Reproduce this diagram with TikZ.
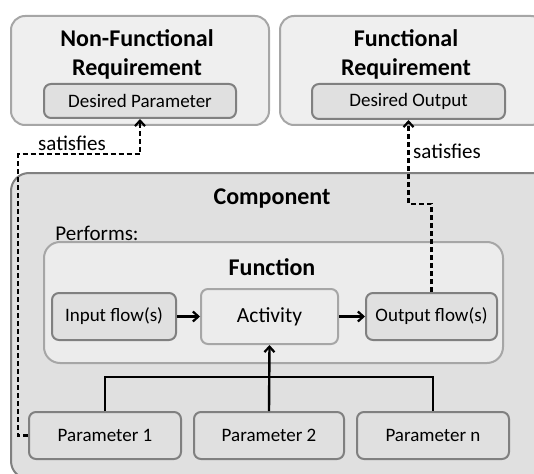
\documentclass[tikz,border=0pt]{standalone}
\usepackage{fontspec}
\setmainfont{Carlito}
\usetikzlibrary{arrows.meta}
\definecolor{paleFill}{HTML}{EFEFEF}
\definecolor{paleLine}{HTML}{A6A6A6}
\definecolor{midFill}{HTML}{E0E0E0}
\definecolor{darkLine}{HTML}{808080}
\definecolor{funcFill}{HTML}{ECECEC}
\tikzset{
  outerbox/.style={draw=paleLine, fill=paleFill, line width=2pt, rounded corners=14pt, anchor=north west, inner sep=0pt},
  compbox/.style={draw=darkLine, fill=midFill, line width=2pt, rounded corners=18pt, anchor=north west, inner sep=0pt},
  funcbox/.style={draw=paleLine, fill=funcFill, line width=2pt, rounded corners=16pt, anchor=north west, inner sep=0pt},
  itembox/.style={draw=darkLine, fill=midFill, line width=2pt, rounded corners=7pt, anchor=north west, inner sep=0pt,
    font=\fontsize{19}{21}\selectfont},
  actbox/.style={draw=paleLine, fill=funcFill, line width=2pt, rounded corners=7pt, anchor=north west, inner sep=0pt,
    font=\fontsize{21.5}{23}\selectfont},
  titletext/.style={font=\bfseries\fontsize{24}{29}\selectfont, inner sep=0pt},
  plaintext/.style={font=\fontsize{21}{23}\selectfont, inner sep=0pt},
  flow/.style={line width=2.4pt, -{Straight Barb[length=5.5pt, width=10pt, line width=2.2pt]}},
  link/.style={line width=2.4pt},
  satisfy/.style={line width=2.4pt, dash pattern=on 5pt off 3pt, -{Straight Barb[length=5.5pt, width=10pt, line width=2.2pt]}}
}
\begin{document}
\begin{tikzpicture}[x=1pt, y=-1pt]
\useasboundingbox (0,0) rectangle (534,473);
\begin{scope}
\clip (0,0) rectangle (534,473);

% requirement containers
\node[outerbox, minimum width=258pt, minimum height=109pt] (nfr) at (10,15) {};
\node[outerbox, minimum width=265pt, minimum height=109pt] (fr) at (279,15) {};
\node[titletext, align=center] (nfrtitle) at (137,54) {Non-Functional\\Requirement};
\node[titletext, align=center] (frtitle) at (406,54) {Functional\\Requirement};
\node[itembox, minimum width=192pt, minimum height=34pt] (dp) at (43,83) {Desired Parameter};
\node[itembox, minimum width=193pt, minimum height=35pt] (do) at (311,83) {Desired Output};

% component container
\node[compbox, minimum width=540pt, minimum height=306pt] (comp) at (10,172) {};
\node[titletext] (comptitle) at (272,199) {Component};
\node[plaintext] (performs) at (97,233) {Performs:};

% function container
\node[funcbox, minimum width=459pt, minimum height=121pt] (func) at (43,241) {};
\node[titletext] (functitle) at (272,267) {Function};
\node[itembox, minimum width=124pt, minimum height=47pt] (inp) at (51,292) {Input flow(s)};
\node[actbox, minimum width=137pt, minimum height=55pt] (act) at (200,288) {Activity};
\node[itembox, minimum width=131pt, minimum height=47pt] (outp) at (365,292) {Output flow(s)};

% parameters
\node[itembox, minimum width=152pt, minimum height=47pt] (p1) at (28,411) {Parameter 1};
\node[itembox, minimum width=150pt, minimum height=47pt] (p2) at (193,411) {Parameter 2};
\node[itembox, minimum width=152pt, minimum height=47pt] (pn) at (356,411) {Parameter n};

% flows inside the function
\draw[flow] (inp.east) -- (act.west);
\draw[flow] (act.east) -- (outp.west);

% parameters feed the activity
\draw[link] (p1.north) -- ++(0,-34) -| (pn.north);
\draw[flow] (p2.north) -- (act.south);

% satisfies relations
\draw[satisfy] (p1.west) -| (18,154) -| (dp.south);
\draw[satisfy] (outp.north) -- ++(0,-88) -| (do.south);
\node[plaintext, anchor=center] (sat1) at (72,143) {satisfies};
\node[plaintext, anchor=center] (sat2) at (447,151) {satisfies};
\end{scope}
\end{tikzpicture}
\end{document}
